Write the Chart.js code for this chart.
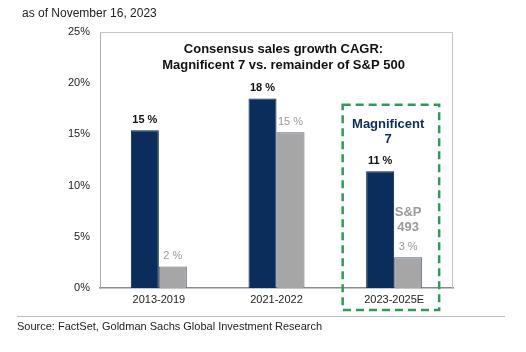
<!DOCTYPE html>
<html>
<head>
<meta charset="UTF-8">
<title>Consensus sales growth CAGR</title>
<script src="https://cdn.jsdelivr.net/npm/chart.js@4"></script>
<style>
  html, body { margin: 0; padding: 0; background: #fff; }
  canvas { display: block; }
</style>
</head>
<body>
<canvas id="chart" width="526" height="352"></canvas>
<script>
// data
const periods = ["2013-2019", "2021-2022", "2023-2025E"];
const mag7 = [15.4, 18.5, 11.4];
const sp493 = [2.1, 15.2, 3.0];
const mag7Labels = ["15 %", "18 %", "11 %"];
const sp493Labels = ["2 %", "15 %", "3 %"];
const yTicks = [0, 5, 10, 15, 20, 25];

const NAVY = "#0b2d5c";
const GREY = "#a6a6a6";
const GREY_TEXT = "#9a9a9a";
const GREEN = "#2f9b58";
const FONT = "'Liberation Sans', Arial, sans-serif";

// extra drawing: frame, title, labels, dashed box, header/footer
const decorations = {
  id: "decorations",
  afterDatasetsDraw(chart) {
    const { ctx, chartArea: a, scales } = chart;
    const x = scales.x, y = scales.y;
    ctx.save();

    // light frame top + right
    ctx.strokeStyle = "#c4c4c4";
    ctx.lineWidth = 1;
    ctx.beginPath();
    ctx.moveTo(a.left, a.top + 0.5);
    ctx.lineTo(a.right - 0.5, a.top + 0.5);
    ctx.lineTo(a.right - 0.5, a.bottom);
    ctx.stroke();

    // value labels
    ctx.textAlign = "center";
    ctx.textBaseline = "bottom";
    const m0 = chart.getDatasetMeta(0).data;
    const m1 = chart.getDatasetMeta(1).data;
    ctx.font = "bold 11px " + FONT;
    ctx.fillStyle = "#111";
    m0.forEach((bar, i) => ctx.fillText(mag7Labels[i], bar.x, bar.y - 5));
    ctx.font = "11px " + FONT;
    ctx.fillStyle = GREY_TEXT;
    m1.forEach((bar, i) => ctx.fillText(sp493Labels[i], bar.x, bar.y - 5));

    // chart title inside plot
    ctx.fillStyle = "#111";
    ctx.font = "bold 13px " + FONT;
    ctx.textBaseline = "middle";
    const cx = (a.left + a.right) / 2 + 7;
    ctx.fillText("Consensus sales growth CAGR:", cx, a.top + 17);
    ctx.fillText("Magnificent 7 vs. remainder of S&P 500", cx, a.top + 33);

    // dashed highlight box round last group
    const c = x.getPixelForValue(2);
    ctx.strokeStyle = GREEN;
    ctx.lineWidth = 2.5;
    ctx.setLineDash([8, 5]);
    ctx.strokeRect(c - 51.5, y.getPixelForValue(17.9), 96.5, a.bottom + 22 - y.getPixelForValue(17.9));
    ctx.setLineDash([]);

    // series annotations
    ctx.font = "bold 13px " + FONT;
    ctx.fillStyle = NAVY;
    ctx.fillText("Magnificent", c - 6, y.getPixelForValue(16));
    ctx.fillText("7", c - 6, y.getPixelForValue(14.5));
    ctx.font = "bold 13px " + FONT;
    ctx.fillStyle = GREY_TEXT;
    ctx.fillText("S&P", m1[2].x, y.getPixelForValue(7.4));
    ctx.fillText("493", m1[2].x, y.getPixelForValue(5.9));

    // header and footer
    ctx.textAlign = "left";
    ctx.fillStyle = "#222";
    ctx.font = "12px " + FONT;
    ctx.fillText("as of November 16, 2023", 22, 14);
    ctx.strokeStyle = "#bdbdbd";
    ctx.lineWidth = 1;
    ctx.beginPath();
    ctx.moveTo(17, 316.5);
    ctx.lineTo(505, 316.5);
    ctx.stroke();
    ctx.fillStyle = "#222";
    ctx.font = "11px " + FONT;
    ctx.fillText("Source: FactSet, Goldman Sachs Global Investment Research", 17, 327);

    ctx.restore();
  }
};

new Chart(document.getElementById("chart"), {
  type: "bar",
  data: {
    labels: periods,
    datasets: [
      {
        label: "Magnificent 7",
        data: mag7,
        backgroundColor: NAVY,
        borderColor: "#082447",
        borderWidth: 1
      },
      {
        label: "S&P 493",
        data: sp493,
        backgroundColor: GREY,
        borderColor: "#54647a",
        borderWidth: 1
      }
    ]
  },
  options: {
    responsive: false,
    animation: false,
    devicePixelRatio: 1,
    layout: { padding: { top: 32, right: 73, bottom: 24, left: 0 } },
    datasets: {
      bar: { categoryPercentage: 0.476, barPercentage: 1 }
    },
    plugins: {
      legend: { display: false },
      title: { display: false },
      tooltip: { enabled: false }
    },
    scales: {
      x: {
        grid: { display: false, drawTicks: false },
        border: { color: "#8c8c8c", width: 1.5 },
        ticks: { color: "#222", font: { family: FONT, size: 11 }, padding: 5 },
        afterFit(axis) { axis.height = 40; }
      },
      y: {
        min: 0,
        max: 25,
        afterBuildTicks(axis) { axis.ticks = yTicks.map(v => ({ value: v })); },
        grid: { display: false, drawTicks: false },
        border: { color: "#b0b0b0", width: 1 },
        ticks: {
          color: "#222",
          font: { family: FONT, size: 11 },
          padding: 10,
          callback: v => v + "%"
        },
        afterFit(axis) { axis.width = 100; }
      }
    }
  },
  plugins: [decorations]
});
</script>
</body>
</html>
